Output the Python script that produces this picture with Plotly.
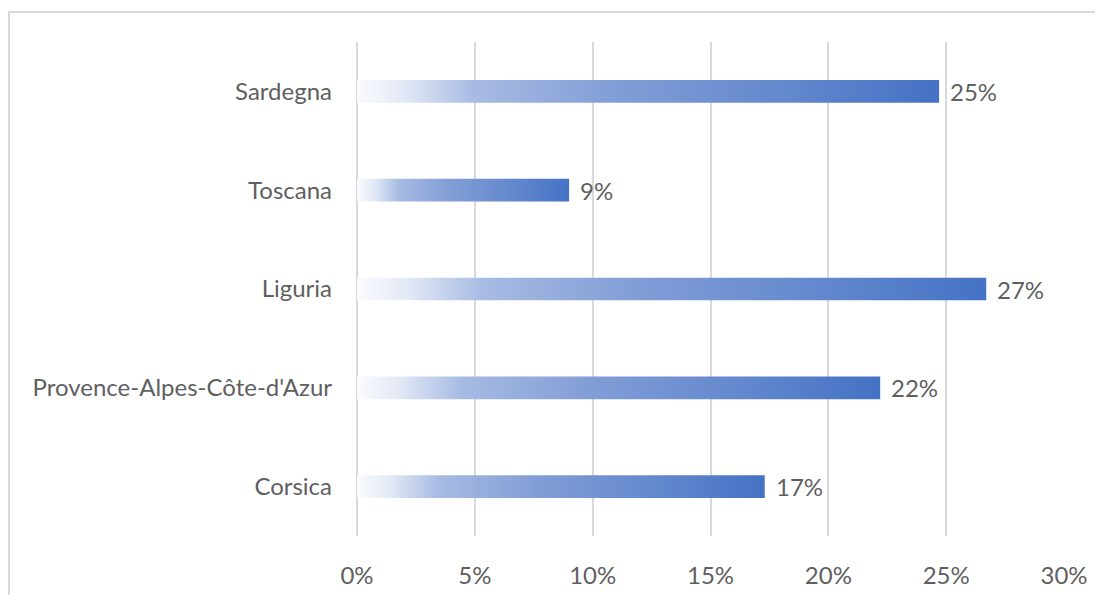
import plotly.graph_objects as go

categories = ["Corsica", "Provence-Alpes-Côte-d'Azur", "Liguria", "Toscana", "Sardegna"]
values = [0.173, 0.222, 0.267, 0.090, 0.247]
tick_vals = [0, 0.05, 0.10, 0.15, 0.20, 0.25, 0.30]
tick_text = ["0%", "5%", "10%", "15%", "20%", "25%", "30%"]

BAR_HALF = 0.115
gradient = [[0.0, "#fafbfe"], [0.08, "#e3e9f6"], [0.2, "#a7bbe3"], [0.45, "#819dd6"], [0.75, "#6187cd"], [1.0, "#4472c4"]]
TEXT_COLOR = "#5f5f5f"
FONT = "Lato"

fig = go.Figure()
for i, (cat, v) in enumerate(zip(categories, values)):
    fig.add_trace(go.Scatter(
        x=[0, v, v, 0, 0],
        y=[i - BAR_HALF, i - BAR_HALF, i + BAR_HALF, i + BAR_HALF, i - BAR_HALF],
        mode="lines", line=dict(width=0),
        fill="toself",
        fillgradient=dict(type="horizontal", colorscale=gradient),
        hoverinfo="skip", showlegend=False,
    ))

for i, v in enumerate(values):
    fig.add_annotation(x=v, y=i, text=f"{round(v*100)}%", showarrow=False,
                       xanchor="left", yanchor="middle", xshift=9,
                       font=dict(family=FONT, size=24, color=TEXT_COLOR))

# page has an 8px body margin; positions below are in figure pixels
L, R, T, B = 349, 47, 34, 67
W, H = 1103, 595
pw, ph = W - L - R, H - T - B
fig.add_shape(type="rect", xref="paper", yref="paper",
              x0=(1 - L) / pw, x1=(W + 30 - L) / pw,
              y0=-(B + 30) / ph, y1=(H - B - 4) / ph,
              line=dict(color="#d9d9d9", width=2), fillcolor="rgba(0,0,0,0)", layer="below")

fig.update_layout(
    width=W, height=H,
    margin=dict(l=L, r=R, t=T, b=B),
    plot_bgcolor="white", paper_bgcolor="white",
    font=dict(family=FONT, size=24, color=TEXT_COLOR),
    xaxis=dict(range=[0, 0.30], tickvals=tick_vals, ticktext=tick_text,
               showgrid=True, gridcolor="#d9d9d9", gridwidth=2,
               zeroline=True, zerolinecolor="#d9d9d9", zerolinewidth=2,
               showline=False, ticks="", ticklabelstandoff=23, fixedrange=True,
               tickfont=dict(family=FONT, size=24, color=TEXT_COLOR)),
    yaxis=dict(range=[-0.5, 4.5], tickvals=list(range(len(categories))), ticktext=categories,
               showgrid=False, zeroline=False, showline=False, ticks="",
               ticklabelstandoff=24, fixedrange=True,
               tickfont=dict(family=FONT, size=24, color=TEXT_COLOR)),
)

fig.write_html("out.html")
